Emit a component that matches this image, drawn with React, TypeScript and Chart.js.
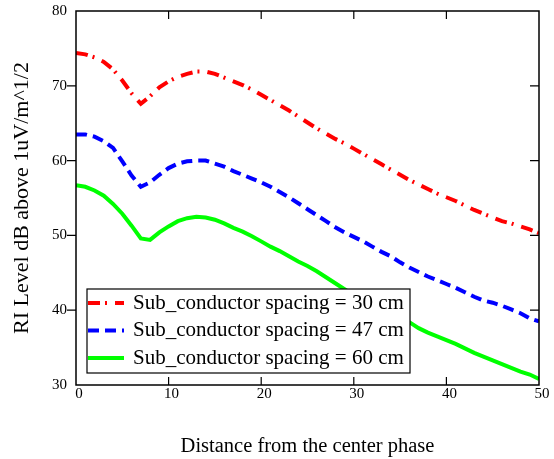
import React, { useEffect, useRef } from 'react';
import { Chart, registerables } from 'chart.js';

Chart.register(...registerables);

// Distance from the center phase (x values)
const distances = [
  0, 1, 2, 3, 4, 5, 6, 7, 8, 9, 10, 11, 12, 13, 14, 15, 16, 17, 18, 19, 20,
  21, 22, 23, 24, 25, 26, 27, 28, 29, 30, 31, 32, 33, 34, 35, 36, 37, 38, 39, 40,
  41, 42, 43, 44, 45, 46, 47, 48, 49, 50,
];

// RI level for sub-conductor spacing = 30 cm
const spacing30 = [
  74.4, 74.2, 73.8, 73.2, 72.2, 70.7, 69.0, 67.6, 68.6, 69.8, 70.6,
  71.2, 71.6, 71.9, 71.9, 71.6, 71.1, 70.6, 70.1, 69.5, 68.8,
  68.1, 67.4, 66.7, 65.9, 65.1, 64.3, 63.6, 62.9, 62.3, 61.6,
  60.9, 60.2, 59.5, 58.8, 58.1, 57.4, 56.8, 56.2, 55.6, 55.1,
  54.6, 54.0, 53.4, 52.9, 52.4, 51.9, 51.6, 51.2, 50.8, 50.3,
];

// RI level for sub-conductor spacing = 47 cm
const spacing47 = [
  63.5, 63.5, 63.2, 62.6, 61.7, 59.9, 58.0, 56.5, 57.1, 58.1, 59.0,
  59.6, 59.9, 60.0, 60.0, 59.6, 59.2, 58.6, 58.1, 57.6, 57.1,
  56.5, 55.8, 55.1, 54.3, 53.5, 52.7, 51.9, 51.1, 50.4, 49.8,
  49.2, 48.5, 47.8, 47.2, 46.4, 45.7, 45.1, 44.5, 44.0, 43.5,
  43.0, 42.4, 41.8, 41.3, 41.0, 40.6, 40.1, 39.6, 38.9, 38.5,
];

// RI level for sub-conductor spacing = 60 cm
const spacing60 = [
  56.7, 56.5, 56.0, 55.3, 54.2, 52.9, 51.3, 49.6, 49.4, 50.4, 51.2,
  51.9, 52.3, 52.5, 52.4, 52.1, 51.6, 51.0, 50.5, 49.9, 49.2,
  48.5, 47.9, 47.2, 46.5, 45.9, 45.2, 44.4, 43.6, 42.8, 42.0,
  41.3, 40.6, 40.0, 39.5, 39.0, 38.4, 37.6, 37.0, 36.5, 36.0,
  35.5, 34.9, 34.3, 33.8, 33.3, 32.8, 32.3, 31.8, 31.4, 30.8,
];

const seriesLabels = [
  'Sub_conductor spacing = 30 cm',
  'Sub_conductor spacing = 47 cm',
  'Sub_conductor spacing = 60 cm',
];

const xTitle = 'Distance from the center phase';
const yTitle = 'RI Level dB above 1uV/m^1/2';

const FONT = "'Liberation Serif', 'Times New Roman', serif";

const framePlugin = {
  id: 'frameTicks',
  afterDraw(chart: any) {
    const { ctx, chartArea } = chart;
    const { left, right, top, bottom } = chartArea;
    ctx.save();
    ctx.strokeStyle = '#000';
    ctx.lineWidth = 1.5;
    ctx.strokeRect(left, top, right - left, bottom - top);
    ctx.lineWidth = 1.2;
    const xs = chart.scales.x;
    const ys = chart.scales.y;
    const tl = 8;
    xs.ticks.forEach((t: any) => {
      if (t.value <= xs.min || t.value >= xs.max) return;
      const px = xs.getPixelForValue(t.value);
      ctx.beginPath();
      ctx.moveTo(px, bottom);
      ctx.lineTo(px, bottom - tl);
      ctx.moveTo(px, top);
      ctx.lineTo(px, top + tl);
      ctx.stroke();
    });
    ys.ticks.forEach((t: any) => {
      if (t.value <= ys.min || t.value >= ys.max) return;
      const py = ys.getPixelForValue(t.value);
      ctx.beginPath();
      ctx.moveTo(left - 9, py);
      ctx.lineTo(left, py);
      ctx.moveTo(right, py);
      ctx.lineTo(right - 9, py);
      ctx.stroke();
    });
    ctx.restore();
  },
};

const legendPlugin = {
  id: 'insideLegend',
  afterDatasetsDraw(chart: any) {
    const { ctx, chartArea } = chart;
    const bx = chartArea.left + 11;
    const by = chartArea.bottom - 96;
    const bw = 323;
    const bh = 84;
    ctx.save();
    ctx.fillStyle = '#fff';
    ctx.fillRect(bx, by, bw, bh);
    ctx.strokeStyle = '#000';
    ctx.lineWidth = 1.2;
    ctx.strokeRect(bx, by, bw, bh);
    chart.data.datasets.forEach((ds: any, i: number) => {
      const y = by + 14 + i * 27.5;
      ctx.save();
      ctx.strokeStyle = ds.borderColor;
      ctx.lineWidth = ds.borderWidth;
      ctx.setLineDash(ds.borderDash || []);
      ctx.beginPath();
      ctx.moveTo(bx + 1, y);
      ctx.lineTo(bx + 37, y);
      ctx.stroke();
      ctx.restore();
      ctx.fillStyle = '#000';
      ctx.font = `21px ${FONT}`;
      ctx.textBaseline = 'middle';
      ctx.textAlign = 'left';
      ctx.fillText(ds.label, bx + 46, y);
    });
    ctx.restore();
  },
};

export default function App() {
  const canvasRef = useRef<HTMLCanvasElement | null>(null);

  useEffect(() => {
    const canvas = canvasRef.current;
    if (!canvas) return;
    const chart = new Chart(canvas, {
      type: 'line',
      data: {
        datasets: [
          {
            label: seriesLabels[0],
            data: distances.map((d, i) => ({ x: d, y: spacing30[i] })),
            borderColor: '#ff0000',
            borderWidth: 4,
            borderDash: [12, 5, 2, 8],
            pointRadius: 0,
            fill: false,
            tension: 0,
          },
          {
            label: seriesLabels[1],
            data: distances.map((d, i) => ({ x: d, y: spacing47[i] })),
            borderColor: '#0000ff',
            borderWidth: 4,
            borderDash: [11, 6],
            pointRadius: 0,
            fill: false,
            tension: 0,
          },
          {
            label: seriesLabels[2],
            data: distances.map((d, i) => ({ x: d, y: spacing60[i] })),
            borderColor: '#00ff00',
            borderWidth: 4,
            pointRadius: 0,
            fill: false,
            tension: 0,
          },
        ],
      },
      options: {
        animation: false,
        responsive: false,
        layout: { padding: { top: 11, right: 15, left: 0, bottom: 0 } },
        plugins: {
          legend: { display: false },
          tooltip: { enabled: false },
        },
        scales: {
          x: {
            type: 'linear',
            min: 0,
            max: 50,
            grid: { display: false, drawTicks: false },
            border: { display: false },
            ticks: {
              stepSize: 10,
              padding: 0,
              labelOffset: 3,
              color: '#000',
              font: { family: FONT, size: 15 },
              maxRotation: 0,
            },
            title: {
              display: true,
              text: xTitle,
              color: '#000',
              font: { family: FONT, size: 20.5 },
              padding: { top: 0, bottom: 0 },
            },
            afterFit(scale: any) {
              scale.height = 74;
            },
          },
          y: {
            type: 'linear',
            min: 30,
            max: 80,
            grid: { display: false, drawTicks: false },
            border: { display: false },
            ticks: {
              stepSize: 10,
              padding: 9,
              color: '#000',
              font: { family: FONT, size: 15 },
            },
            title: {
              display: true,
              text: yTitle,
              color: '#000',
              font: { family: FONT, size: 22 },
              padding: { top: 9, bottom: 0 },
            },
            afterFit(scale: any) {
              scale.width = 76;
              scale.paddingTop = 0;
              scale.paddingBottom = 0;
            },
          },
        },
      },
      plugins: [legendPlugin, framePlugin],
    });
    return () => chart.destroy();
  }, []);

  return (
    <div style={{ position: 'fixed', left: 0, top: 0, width: 554, height: 459, background: '#fff' }}>
      <canvas ref={canvasRef} width={554} height={459} style={{ display: 'block' }} />
    </div>
  );
}
